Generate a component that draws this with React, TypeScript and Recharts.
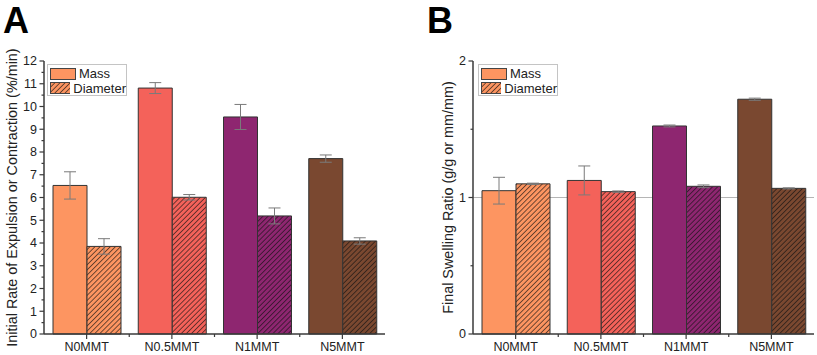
import { Bar, BarChart, CartesianGrid, Cell, ErrorBar, Label, Legend, XAxis, YAxis } from "recharts";

const CATEGORIES = ["N0MMT", "N0.5MMT", "N1MMT", "N5MMT"];
// one colour per formulation, reused for the hatched diameter bar
const COLORS = ["#fd9561", "#f4625a", "#8e2670", "#7a4830"];

// panel A: initial rate of expulsion / contraction (%/min)
const RATE_MASS = [6.53, 10.81, 9.54, 7.71];
const RATE_MASS_ERR = [0.6, 0.24, 0.55, 0.16];
const RATE_DIAMETER = [3.85, 6.01, 5.19, 4.09];
const RATE_DIAMETER_ERR = [0.34, 0.12, 0.35, 0.14];
const RATE_TICKS = [0, 0.5, 1, 1.5, 2, 2.5, 3, 3.5, 4, 4.5, 5, 5.5, 6, 6.5, 7, 7.5, 8, 8.5, 9, 9.5, 10, 10.5, 11, 11.5, 12];
const RATE_LABELED = [0, 1, 2, 3, 4, 5, 6, 7, 8, 9, 10, 11, 12];

// panel B: final swelling ratio
const SWELL_MASS = [1.05, 1.125, 1.524, 1.72];
const SWELL_MASS_ERR = [0.098, 0.106, 0.007, 0.008];
const SWELL_DIAMETER = [1.1, 1.043, 1.082, 1.067];
const SWELL_DIAMETER_ERR = [0.005, 0.005, 0.01, 0.004];
const SWELL_TICKS = [0, 0.5, 1, 1.5, 2];
const SWELL_LABELED = [0, 1, 2];

const FONT = '"Liberation Sans", Arial, Helvetica, sans-serif';
const AXIS = "#3a3a3a";
const TEXT = "#222";

function hatchDefs(prefix: string, colors: string[]) {
  return colors.map((c, i) => (
    <pattern
      key={i}
      id={`${prefix}-${i}`}
      patternUnits="userSpaceOnUse"
      width={3.6}
      height={3.6}
      patternTransform="rotate(45)"
    >
      <rect width={3.6} height={3.6} fill={c} />
      <line x1={0} y1={0} x2={0} y2={3.6} stroke="#111" strokeWidth={1.2} />
    </pattern>
  ));
}

function YTick(props: any) {
  const { x, y, payload, labeled } = props;
  const major = labeled.includes(payload.value);
  return (
    <g>
      <line x1={x - (major ? 4.5 : 2.5)} x2={x} y1={y} y2={y} stroke={AXIS} strokeWidth={1.2} />
      {major && (
        <text x={x - 7} y={y} dy="0.35em" textAnchor="end" fontSize={12.5} fill={TEXT} fontFamily={FONT}>
          {payload.value}
        </text>
      )}
    </g>
  );
}

function XTick(props: any) {
  const { x, y, payload, index, band } = props;
  const half = payload.offset || band / 2;
  return (
    <g>
      <line x1={x} x2={x} y1={y} y2={y + 5} stroke={AXIS} strokeWidth={1.2} />
      {index < CATEGORIES.length - 1 && (
        <line x1={x + half} x2={x + half} y1={y} y2={y + 3} stroke={AXIS} strokeWidth={1.2} />
      )}
      <text x={x} y={y + 8} dy="0.71em" textAnchor="middle" fontSize={12.5} fill={TEXT} fontFamily={FONT}>
        {payload.value}
      </text>
    </g>
  );
}

function LegendBox({ id }: { id: string }) {
  const row = { display: "flex", alignItems: "center", height: 13 } as const;
  return (
    <div
      style={{
        border: "1px solid #c4c4c4",
        background: "#fff",
        padding: "2px 0 2px 2px",
        fontFamily: FONT,
        fontSize: 13,
        color: TEXT,
        lineHeight: "13px",
        boxSizing: "border-box",
        width: 80,
        height: 32,
      }}
    >
      <div style={{ ...row, marginBottom: 1.5 }}>
        <svg width={26} height={12}>
          <rect x={0.5} y={0.5} width={25} height={11} fill={COLORS[0]} stroke="#444" />
        </svg>
        <span style={{ marginLeft: 3 }}>Mass</span>
      </div>
      <div style={row}>
        <svg width={26} height={12}>
          <defs>{hatchDefs(`${id}-leg`, [COLORS[0]])}</defs>
          <rect x={0.5} y={0.5} width={25} height={11} fill={`url(#${id}-leg-0)`} stroke="#444" />
        </svg>
        <span style={{ marginLeft: 3 }}>Diameter</span>
      </div>
    </div>
  );
}

type PanelProps = {
  id: string;
  letter: string;
  left: number;
  width: number;
  yAxisWidth: number;
  marginRight: number;
  yLabel: string;
  labelOffset: number;
  domain: [number, number];
  ticks: number[];
  labeled: number[];
  mass: number[];
  massErr: number[];
  diameter: number[];
  diameterErr: number[];
  refOne?: boolean;
  legendLeft: number;
};

function Panel(p: PanelProps) {
  const data = CATEGORIES.map((name, i) => ({
    name,
    mass: p.mass[i],
    massErr: p.massErr[i],
    diameter: p.diameter[i],
    diameterErr: p.diameterErr[i],
  }));
  const band = (p.width - p.yAxisWidth - p.marginRight) / CATEGORIES.length;
  return (
    <div style={{ position: "absolute", left: p.left, top: 0 }}>
      <div
        style={{
          position: "absolute",
          left: p.letter === "A" ? 3 : 17,
          top: 0,
          fontFamily: FONT,
          fontWeight: 700,
          fontSize: 36,
          lineHeight: "normal",
          color: "#000",
          zIndex: 2,
        }}
      >
        {p.letter}
      </div>
      <BarChart
        width={p.width}
        height={355}
        data={data}
        margin={{ top: 61, right: p.marginRight, bottom: 0, left: 0 }}
        barGap={0}
        barSize={34}
      >
        <defs>{hatchDefs(p.id, COLORS)}</defs>
        {p.refOne && (
          <CartesianGrid horizontalValues={[1]} vertical={false} stroke="#b5b5b5" strokeWidth={1.2} />
        )}
        <XAxis
          dataKey="name"
          height={21}
          tickSize={0}
          tickMargin={0}
          tickLine={false}
          interval={0}
          axisLine={{ stroke: AXIS, strokeWidth: 1.5 }}
          tick={(t: any) => <XTick {...t} band={band} />}
        />
        <XAxis
          xAxisId="top"
          dataKey="name"
          orientation="top"
          height={0}
          tick={false}
          tickLine={false}
          axisLine={{ stroke: AXIS, strokeWidth: 1.5 }}
        />
        <YAxis
          width={p.yAxisWidth}
          domain={p.domain}
          ticks={p.ticks}
          interval={0}
          tickSize={0}
          tickMargin={0}
          tickLine={false}
          axisLine={{ stroke: AXIS, strokeWidth: 1.5 }}
          tick={(t: any) => <YTick {...t} labeled={p.labeled} />}
        >
          <Label
            value={p.yLabel}
            angle={-90}
            position="insideLeft"
            offset={p.labelOffset}
            style={{ textAnchor: "middle", fontSize: 14.4, fill: TEXT, fontFamily: FONT }}
          />
        </YAxis>
        <YAxis
          yAxisId="right"
          orientation="right"
          width={0}
          domain={p.domain}
          tick={false}
          tickLine={false}
          axisLine={{ stroke: AXIS, strokeWidth: 1.5 }}
        />
        <Legend
          layout="vertical"
          align="center"
          verticalAlign="middle"
          wrapperStyle={{ left: p.legendLeft, top: 64, width: 80, height: 32 }}
          content={() => <LegendBox id={p.id} />}
        />
        <Bar dataKey="mass" stroke="#333" strokeWidth={1} isAnimationActive={false}>
          {data.map((_, i) => (
            <Cell key={i} fill={COLORS[i]} />
          ))}
          <ErrorBar dataKey="massErr" width={6} stroke="#7a7a7a" strokeWidth={1} />
        </Bar>
        <Bar dataKey="diameter" stroke="#333" strokeWidth={1} isAnimationActive={false}>
          {data.map((_, i) => (
            <Cell key={i} fill={`url(#${p.id}-${i})`} />
          ))}
          <ErrorBar dataKey="diameterErr" width={6} stroke="#7a7a7a" strokeWidth={1} />
        </Bar>
      </BarChart>
    </div>
  );
}

export default function App() {
  return (
    <div style={{ position: "absolute", left: 0, top: 0, width: 817, height: 355, background: "#fff" }}>
      <Panel
        id="rate"
        letter="A"
        left={0}
        width={410}
        yAxisWidth={44}
        marginRight={25}
        yLabel="Initial Rate of Expulsion or Contraction (%/min)"
        labelOffset={12}
        domain={[0, 12]}
        ticks={RATE_TICKS}
        labeled={RATE_LABELED}
        mass={RATE_MASS}
        massErr={RATE_MASS_ERR}
        diameter={RATE_DIAMETER}
        diameterErr={RATE_DIAMETER_ERR}
        legendLeft={47}
      />
      <Panel
        id="swell"
        letter="B"
        left={410}
        width={407}
        yAxisWidth={63}
        marginRight={3}
        yLabel="Final Swelling Ratio (g/g or mm/mm)"
        labelOffset={38}
        domain={[0, 2]}
        ticks={SWELL_TICKS}
        labeled={SWELL_LABELED}
        mass={SWELL_MASS}
        massErr={SWELL_MASS_ERR}
        diameter={SWELL_DIAMETER}
        diameterErr={SWELL_DIAMETER_ERR}
        refOne
        legendLeft={68}
      />
    </div>
  );
}
